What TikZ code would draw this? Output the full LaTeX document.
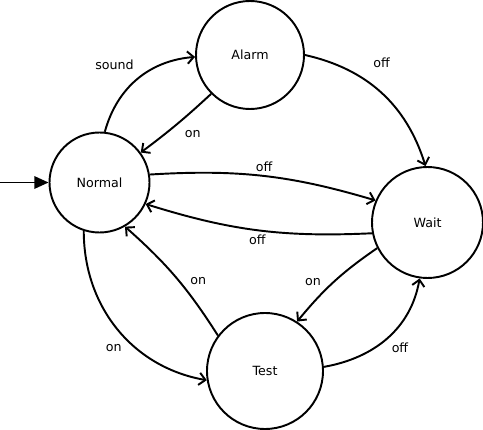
\documentclass[tikz,border=0pt]{standalone}
\usepackage{fontspec}
\setmainfont{DejaVu Sans}
\usetikzlibrary{arrows.meta}
\tikzset{
    mystate/.style = {circle, line width=1.1pt, draw=black, align=center, inner sep=0pt, font=\fontsize{7.2}{8.6}\selectfont},
    edgen/.style = {-{Straight Barb[length=3.6pt,width=7pt,line width=1.1pt]}, line width=1.1pt},
    edgei/.style = {-{Triangle[length=8pt,width=7pt]}, line width=1.1pt},
    lbl/.style = {font=\fontsize{7.2}{8.6}\selectfont, inner sep=2pt}
}
\begin{document}
\begin{tikzpicture}
  \useasboundingbox (0,0) rectangle (9.66,-8.6);
  \node[mystate, minimum size=2.00cm] at (1.99,-3.65) (normal) {Normal};
  \node[mystate, minimum size=2.16cm] at (5.00,-1.10) (alarm) {Alarm};
  \node[mystate, minimum size=2.22cm] at (8.55,-4.45) (wait) {Wait};
  \node[mystate, minimum size=2.32cm] at (5.30,-7.42) (test) {Test};
  \coordinate (start) at (0,-3.65);

  \draw[edgei] (start) -- (normal);
  \draw[edgen] (normal.84) to[bend left=35] node[lbl, pos=0.45, above left, xshift=3pt, yshift=5pt] {sound} (alarm.182);
  \draw[edgen] (alarm.225) to[bend left=3] node[lbl, pos=0.5, below right, xshift=2pt, yshift=-1pt] {on} (normal.36);
  \draw[edgen] (alarm.0) to[bend left=30] node[lbl, pos=0.4, above right, yshift=6pt] {off} (wait.92);
  \draw[edgen] (normal.9) to[bend left=10] node[lbl, above] {off} (wait.157);
  \draw[edgen] (wait.191) to[bend left=10] node[lbl, below] {off} (normal.335);
  \draw[edgen] (wait.207) to[bend right=8] node[lbl, pos=0.62, above left] {on} (test.57);
  \draw[edgen] (test.4) to[out=10,in=-100] node[lbl, below right] {off} (wait.262);
  \draw[edgen] (test.143) to[bend right=8] node[lbl, pos=0.38, above right] {on} (normal.300);
  \draw[edgen] (normal.252) to[out=-90,in=170] node[lbl, pos=0.6, below left, xshift=-3pt, yshift=2pt] {on} (test.189);
\end{tikzpicture}
\end{document}
